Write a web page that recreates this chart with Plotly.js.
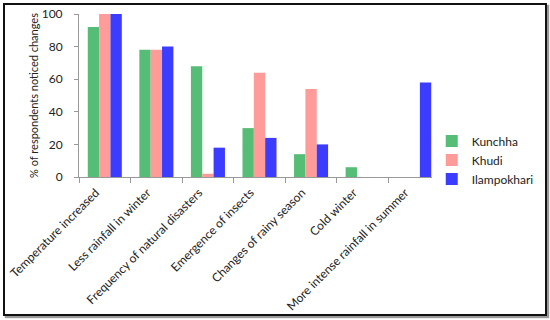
<!DOCTYPE html>
<html>
<head>
<meta charset="utf-8">
<script src="https://cdn.plot.ly/plotly-3.0.1.min.js"></script>
<style>
body{margin:0;padding:0;background:#fff;}
#wrap{position:relative;width:550px;height:320px;}
#chart{width:550px;height:320px;}
#frame{position:absolute;left:3px;top:3px;width:540px;height:309px;border:2px solid #111;box-shadow:2px 2px 1px #999;pointer-events:none;}
</style>
</head>
<body>
<div id="wrap"><div id="chart"></div><div id="frame"></div></div>
<script>
const categories = ["Temperature increased","Less rainfall in winter","Frequency of natural disasters","Emergence of insects","Changes of rainy season","Cold winter","More intense rainfall in summer"];
const kunchha = [92, 78, 68, 30, 14, 6, 0];
const khudi = [100, 78, 2, 64, 54, 0, 0];
const ilampokhari = [100, 80, 18, 24, 20, 0, 58];
const yTicks = [0, 20, 40, 60, 80, 100];

const fam = "Lato, Open Sans, sans-serif";
const traces = [
  {type:"bar", name:"Kunchha", x:categories, y:kunchha, marker:{color:"#55bd76"}},
  {type:"bar", name:"Khudi", x:categories, y:khudi, marker:{color:"#ff9b98"}},
  {type:"bar", name:"Ilampokhari", x:categories, y:ilampokhari, marker:{color:"#3c3cff"}}
];
const layout = {
  width:550, height:320,
  margin:{l:79, r:110, t:14, b:143, autoexpand:false},
  paper_bgcolor:"#fff", plot_bgcolor:"#fff",
  font:{family:fam, size:12, color:"#222"},
  barmode:"group", bargap:0.34, bargroupgap:0,
  showlegend:true,
  legend:{xref:"container", yref:"container", x:0.785, y:0.5, xanchor:"left", yanchor:"middle",
          font:{family:fam, size:12, color:"#222"}, itemwidth:30},
  xaxis:{
    type:"category", showline:true, linecolor:"#999", linewidth:1,
    ticks:"outside", ticklen:5, tickcolor:"#999", tickson:"boundaries",
    tickangle:-45, ticklabelshift:-9, ticklabelstandoff:3,
    tickfont:{family:fam, size:12, color:"#222"},
    showgrid:false, zeroline:false
  },
  yaxis:{
    range:[0,100], tickvals:yTicks, showline:true, linecolor:"#999", linewidth:1,
    ticks:"outside", ticklen:4, tickcolor:"#999", showgrid:false, zeroline:false,
    ticklabelstandoff:9,
    tickfont:{family:fam, size:12, color:"#222"},
    title:{text:"% of respondents noticed changes", font:{family:fam, size:11, color:"#222"}, standoff:0}
  }
};
Plotly.newPlot("chart", traces, layout, {displayModeBar:false, staticPlot:true});
</script>
</body>
</html>
